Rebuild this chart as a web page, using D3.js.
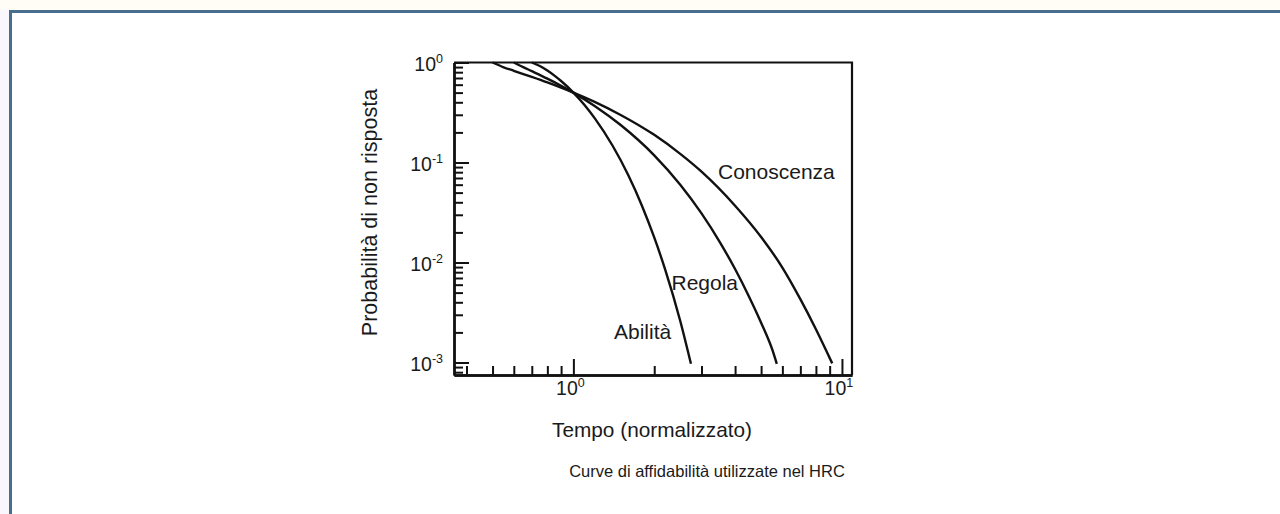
<!DOCTYPE html>
<html>
<head>
<meta charset="utf-8">
<script src="https://cdn.jsdelivr.net/npm/d3@7"></script>
<style>
  body { margin: 0; background: #fff; }
  svg { display: block; font-family: "Liberation Sans", Arial, Helvetica, sans-serif; }
</style>
</head>
<body>
<div id="chart"></div>
<script>
// data: normalised time vs non-response probability
const abilitaT = [0.70, 0.75, 0.80, 0.85, 0.90, 1.00, 1.10, 1.20, 1.40, 1.60, 1.80, 2.00, 2.20, 2.50, 2.74];
const abilitaP = [1, 0.922, 0.831, 0.739, 0.653, 0.500, 0.376, 0.278, 0.147, 0.075, 0.037, 0.0178, 0.0084, 0.0026, 0.00097];

const regolaT = [0.60, 0.65, 0.70, 0.80, 0.90, 1.00, 1.20, 1.50, 2.00, 2.50, 3.00, 3.50, 4.00, 4.50, 5.00, 5.50, 5.72];
const regolaP = [1, 0.899, 0.819, 0.690, 0.586, 0.500, 0.368, 0.237, 0.118, 0.060, 0.031, 0.0162, 0.0086, 0.0046, 0.0025, 0.00135, 0.00097];

const conoscenzaT = [0.50, 0.55, 0.60, 0.70, 0.80, 0.90, 1.00, 1.20, 1.50, 2.00, 2.50, 3.00, 4.00, 5.00, 6.00, 7.00, 8.00, 9.20];
const conoscenzaP = [1, 0.896, 0.826, 0.717, 0.631, 0.560, 0.500, 0.404, 0.299, 0.189, 0.122, 0.081, 0.037, 0.018, 0.0089, 0.0043, 0.00215, 0.00098];

const curveNames = ["Abilità", "Regola", "Conoscenza"];

// tick labels
const yMajor = [1, 0.1, 0.01, 0.001];
const yExp = ["0", "-1", "-2", "-3"];
const yMinor = [0.0008, 0.0009,
  0.002, 0.003, 0.004, 0.005, 0.006, 0.007, 0.008, 0.009,
  0.02, 0.03, 0.04, 0.05, 0.06, 0.07, 0.08, 0.09,
  0.2, 0.3, 0.4, 0.5, 0.6, 0.7, 0.8, 0.9];
const xMajor = [1, 10];
const xExp = ["0", "1"];
const xMinor = [0.4, 0.5, 0.6, 0.7, 0.8, 0.9, 2, 3, 4, 5, 6, 7, 8, 9];

const W = 1280, H = 514;
const box = {left: 454, right: 852, top: 62.5, bottom: 375};

const svg = d3.select("#chart").append("svg")
    .attr("width", W)
    .attr("height", H);

// page frame
svg.append("rect").attr("x", 0).attr("y", 0).attr("width", W).attr("height", 10)
    .attr("fill", "#fffdf6");
svg.append("rect").attr("x", 0).attr("y", 10).attr("width", 9).attr("height", H)
    .attr("fill", "#f8f7fd");
svg.append("path")
    .attr("d", `M10.5,${H} L10.5,11.5 L${W},11.5`)
    .attr("fill", "none")
    .attr("stroke", "#476f8d")
    .attr("stroke-width", 3);

// scales
const x = d3.scaleLog()
    .domain([0.3593, 10.9])
    .range([box.left, box.right]);

const y = d3.scaleLog()
    .domain([Math.pow(10, -3.125), 1])
    .range([box.bottom, box.top]);

const g = svg.append("g");

// axes: ticks point into the plot
g.append("g")
    .attr("transform", `translate(${box.left},0)`)
    .call(d3.axisLeft(y).tickValues(yMinor).tickSize(-9).tickSizeOuter(0).tickFormat(""));
g.append("g")
    .attr("transform", `translate(${box.left},0)`)
    .call(d3.axisLeft(y).tickValues(yMajor).tickSize(-15).tickSizeOuter(0).tickFormat(""));
g.append("g")
    .attr("transform", `translate(0,${box.bottom})`)
    .call(d3.axisBottom(x).tickValues(xMinor).tickSize(-9).tickSizeOuter(0).tickFormat(""));
g.append("g")
    .attr("transform", `translate(0,${box.bottom})`)
    .call(d3.axisBottom(x).tickValues(xMajor).tickSize(-16).tickSizeOuter(0).tickFormat(""));

g.selectAll(".tick line").attr("stroke", "#111").attr("stroke-width", 2);
g.selectAll(".domain").attr("stroke", "#111").attr("stroke-width", 2.4);

// top and right sides of the box
g.append("path")
    .attr("d", `M${x.range()[0]},${y.range()[1]} L${x.range()[1]},${y.range()[1]} L${x.range()[1]},${y.range()[0]}`)
    .attr("fill", "none")
    .attr("stroke", "#111")
    .attr("stroke-width", 2.2);

// tick labels with superscripts
const yLab = g.selectAll(".ylab")
    .data(yMajor)
    .join("text")
    .attr("class", "ylab")
    .attr("x", box.left - 11)
    .attr("y", d => y(d) + 8.5)
    .attr("text-anchor", "end")
    .attr("fill", "#1a1a1a")
    .style("font-size", "19.5px");
yLab.append("tspan").text("10");
yLab.append("tspan")
    .attr("dy", -8)
    .style("font-size", "12.5px")
    .text((d, i) => yExp[i]);

const xLab = g.selectAll(".xlab")
    .data(xMajor)
    .join("text")
    .attr("class", "xlab")
    .attr("x", d => x(d) - 3)
    .attr("y", box.bottom + 19.5)
    .attr("text-anchor", "middle")
    .attr("fill", "#1a1a1a")
    .style("font-size", "19.5px");
xLab.append("tspan").text("10");
xLab.append("tspan")
    .attr("dy", -8)
    .style("font-size", "12.5px")
    .text((d, i) => xExp[i]);

// curves
const series = [
  {name: curveNames[0], t: abilitaT, p: abilitaP},
  {name: curveNames[1], t: regolaT, p: regolaP},
  {name: curveNames[2], t: conoscenzaT, p: conoscenzaP}
];

const line = d3.line()
    .x(d => x(d[0]))
    .y(d => y(d[1]))
    .curve(d3.curveMonotoneX);

g.selectAll(".curve")
    .data(series)
    .join("path")
    .attr("class", "curve")
    .attr("d", s => line(s.t.map((t, i) => [t, s.p[i]])))
    .attr("fill", "none")
    .attr("stroke", "#111")
    .attr("stroke-width", 2.4);

// curve labels
const labelPos = [
  {x: 614, y: 338.5},
  {x: 671.5, y: 289.5},
  {x: 718, y: 179}
];
g.selectAll(".clab")
    .data(series)
    .join("text")
    .attr("class", "clab")
    .attr("x", (d, i) => labelPos[i].x)
    .attr("y", (d, i) => labelPos[i].y)
    .attr("fill", "#1a1a1a")
    .style("font-size", "21px")
    .text(d => d.name);

// axis titles and caption
g.append("text")
    .attr("x", 652)
    .attr("y", 437)
    .attr("text-anchor", "middle")
    .attr("fill", "#1a1a1a")
    .style("font-size", "20.8px")
    .text("Tempo (normalizzato)");

g.append("text")
    .attr("transform", `translate(376.5,212.5) rotate(-90)`)
    .attr("text-anchor", "middle")
    .attr("fill", "#1a1a1a")
    .style("font-size", "21.5px")
    .text("Probabilità di non risposta");

g.append("text")
    .attr("x", 707)
    .attr("y", 477)
    .attr("text-anchor", "middle")
    .attr("fill", "#1a1a1a")
    .style("font-size", "16.5px")
    .text("Curve di affidabilità utilizzate nel HRC");
</script>
</body>
</html>
